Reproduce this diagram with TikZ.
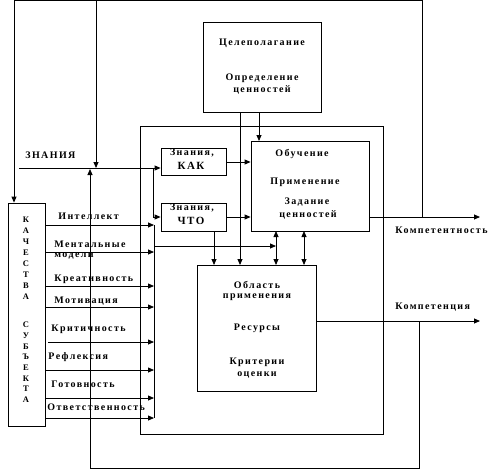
\documentclass[tikz,border=0pt]{standalone}
\usepackage{fontspec}
\setmainfont{Liberation Serif}[LetterSpace=14]
\usetikzlibrary{arrows.meta}
\begin{document}
\begin{tikzpicture}[x=1pt,y=-1pt,
  line width=0.8pt,
  box/.style={draw, rectangle, inner sep=0pt},
  txt/.style={inner sep=0pt, font=\bfseries\fontsize{10}{11}\selectfont},
  big/.style={inner sep=0pt, font=\bfseries\fontsize{11}{12}\selectfont},
  lt/.style={txt, anchor=west},
  vl/.style={inner sep=0pt, font=\bfseries\fontsize{8.5}{9}\selectfont},
  arr/.style={-{Triangle[length=6pt,width=5pt]}},
  darr/.style={{Triangle[length=6pt,width=5pt]}-{Triangle[length=6pt,width=5pt]}}]
\useasboundingbox (0,0) rectangle (504,469);
% boxes
\node[box, minimum width=37pt, minimum height=223pt] (kach) at (26.5,314.5) {};
\node[box, minimum width=118pt, minimum height=90pt] (goal) at (262,67) {};
\node[box, minimum width=243pt, minimum height=308pt] (outer) at (261.5,280) {};
\node[box, minimum width=118pt, minimum height=90pt] (learn) at (310,186) {};
\node[box, minimum width=65pt, minimum height=27pt] (kak) at (193.5,161.5) {};
\node[box, minimum width=65pt, minimum height=28pt] (chto) at (193.5,217) {};
\node[box, minimum width=119pt, minimum height=126pt] (area) at (256.5,328) {};
% box texts
\node[txt] (g1) at (262,43) {Целеполагание};
\node[txt] (g2) at (262,78) {Определение};
\node[txt] (g3) at (262,90) {ценностей};
\node[txt] (l1) at (302,154) {Обучение};
\node[txt] (l2) at (305,182) {Применение};
\node[txt] (l3) at (307,202) {Задание};
\node[txt] (l4) at (308,215) {ценностей};
\node[txt] (k1) at (192,153) {Знания,};
\node[big] (k2) at (191,166) {КАК};
\node[txt] (c1) at (192,208) {Знания,};
\node[big] (c2) at (191,221) {ЧТО};
\node[txt] (a1) at (257,285) {Область};
\node[txt] (a2) at (257,297) {применения};
\node[txt] (a3) at (257,328) {Ресурсы};
\node[txt] (a4) at (257,362) {Критерии};
\node[txt] (a5) at (257,375) {оценки};
% vertical letters
\foreach \l [count=\i from 0] in {К,А,Ч,Е,С,Т,В,А}
  \node[vl] (q\i) at (26,220+10.9*\i) {\l};
\foreach \l [count=\i from 0] in {С,У,Б,Ъ,Е,К,Т,А}
  \node[vl] (s\i) at (26,325+10.7*\i) {\l};
% labels
\node[lt] (zn) at (25,155) {ЗНАНИЯ};
\node[lt] (i1) at (58,216) {Интеллект};
\node[lt] (i2) at (54,244) {Ментальные};
\node[lt] (i2b) at (54,256) {модели};
\node[lt] (i3) at (54,279) {Креативность};
\node[lt] (i4) at (54,301) {Мотивация};
\node[lt] (i5) at (51,329) {Критичность};
\node[lt] (i6) at (48,357) {Рефлексия};
\node[lt] (i7) at (51,384) {Готовность};
\node[lt] (i8) at (47,407) {Ответственность};
\node[lt] (o1) at (395,230) {Компетентность};
\node[lt] (o2) at (395,307) {Компетенция};
% coordinates
\coordinate (jK) at (422,217);
\coordinate (tR) at (422,0);
\coordinate (tL) at (14,0);
\coordinate (t96) at (96,0);
\coordinate (z96) at (96,168);
\coordinate (zin) at (19,168);
\coordinate (br) at (153,168);
\coordinate (brd) at (153,217);
\coordinate (jC) at (419,321);
\coordinate (bR) at (419,468);
\coordinate (bL) at (90,468);
\coordinate (up90) at (90,169);
\coordinate (endK) at (480,217);
\coordinate (endC) at (480,321);
\coordinate (busT) at (154,225);
\coordinate (busB) at (154,418);
\coordinate (hb) at (155,246);
\coordinate (hbe) at (276,246);
% top loop
\draw[arr] (jK) -- (tR) -- (tL) -- (tL |- kach.north);
\draw[arr] (t96) -- (z96);
% ZNANIYA
\draw[arr] (zin) -- (kak.west |- zin);
\draw[arr] (br) -- (brd) -- (chto.west |- brd);
% bottom loop
\draw[arr] (jC) -- (bR) -- (bL) -- (up90);
% outputs
\draw[arr] (learn.east |- endK) -- (endK);
\draw[arr] (area.east |- endC) -- (endC);
% goal
\draw[arr] (259,112) -- (259,141);
\draw[arr] (240,112) -- (240,265);
% kak/chto
\draw[arr] (kak.east |- 0,162) -- (learn.west |- 0,162);
\draw[arr] (chto.east |- 0,217) -- (learn.west |- 0,217);
\draw[arr] (214,231) -- (214,265);
\draw[darr] (276,231) -- (276,265);
\draw[darr] (304,231) -- (304,265);
% bus
\draw (busT) -- (busB);
\draw[arr] (hb) -- (hbe);
\foreach \y in {225,252,286,307,370,398,418}
  \draw[arr] (kach.east |- 0,\y) -- (busT |- 0,\y);
\draw[arr] (48,342) -- (busT |- 0,342);
\end{tikzpicture}
\end{document}
